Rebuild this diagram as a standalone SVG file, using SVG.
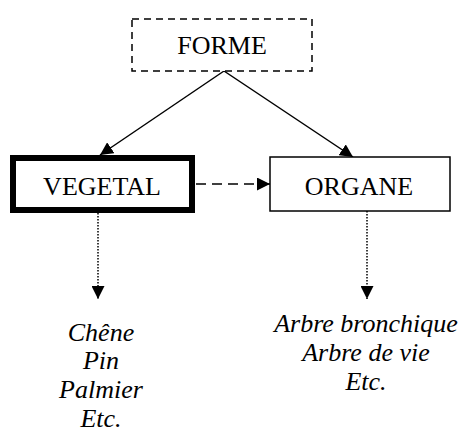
<svg xmlns="http://www.w3.org/2000/svg" width="464" height="431" viewBox="0 0 464 431">
<style>
.lbl{font-family:"Liberation Serif","Times New Roman",serif;font-size:26px;fill:#000;text-anchor:middle}
.it{font-family:"Liberation Serif","Times New Roman",serif;font-size:26px;font-style:italic;fill:#000;text-anchor:middle}
.ln{stroke:#000;fill:none;stroke-width:1.5}
</style>
<defs>
<marker id="ah" viewBox="0 0 10 10" refX="10" refY="5" markerWidth="13" markerHeight="13" markerUnits="userSpaceOnUse" orient="auto">
<path d="M0,0 L10,5 L0,10 Z" fill="#000"/>
</marker>
</defs>
<rect width="464" height="431" fill="#fff"/>
<g id="connectors">
<line class="ln" x1="224" y1="71" x2="100" y2="155" marker-end="url(#ah)"/>
<line class="ln" x1="224" y1="71" x2="353" y2="157" marker-end="url(#ah)"/>
<line class="ln" x1="196" y1="184" x2="270" y2="184" stroke-dasharray="10,6" marker-end="url(#ah)"/>
<line class="ln" x1="98" y1="213" x2="98" y2="299" stroke-dasharray="1.5,1.5" marker-end="url(#ah)"/>
<line class="ln" x1="367" y1="211" x2="367" y2="299" stroke-dasharray="1.5,1.5" marker-end="url(#ah)"/>
</g>
<g id="forme">
<rect x="132" y="19" width="180" height="52" fill="#fff" stroke="#000" stroke-width="1.5" stroke-dasharray="7,5"/>
<text class="lbl" x="222" y="54">FORME</text>
</g>
<g id="vegetal">
<rect x="13" y="158" width="179" height="52" fill="#fff" stroke="#000" stroke-width="6"/>
<text class="lbl" x="102" y="195">VEGETAL</text>
</g>
<g id="organe">
<rect x="270" y="157" width="180" height="54" fill="#fff" stroke="#000" stroke-width="1.5"/>
<text class="lbl" x="359" y="195">ORGANE</text>
</g>
<g id="vegetal-list">
<text class="it" x="101" y="341">Chêne</text>
<text class="it" x="101" y="369">Pin</text>
<text class="it" x="101" y="398">Palmier</text>
<text class="it" x="101" y="427">Etc.</text>
</g>
<g id="organe-list">
<text class="it" x="366" y="332">Arbre bronchique</text>
<text class="it" x="366" y="361">Arbre de vie</text>
<text class="it" x="366" y="390">Etc.</text>
</g>
</svg>
